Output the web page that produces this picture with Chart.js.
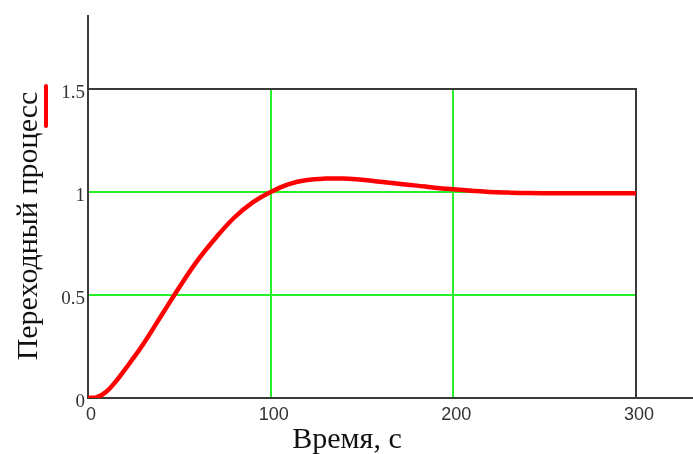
<!DOCTYPE html>
<html>
<head>
<meta charset="utf-8">
<script src="https://cdn.jsdelivr.net/npm/chart.js@4"></script>
<style>
  html, body { margin: 0; padding: 0; background: #fff; }
  canvas { display: block; }
</style>
</head>
<body>
<canvas id="chart" width="693" height="454"></canvas>
<script>
// Время, с
const timeValues = [0, 5, 10, 15, 20, 25, 30, 40, 50, 60, 70, 80, 90, 100, 110, 120, 130, 140, 150,
  160, 170, 180, 190, 200, 210, 220, 230, 240, 260, 280, 300];
// Переходный процесс
const responseValues = [0, 0.004, 0.03, 0.078, 0.135, 0.196, 0.258, 0.398, 0.538, 0.668, 0.778, 0.875, 0.948, 1.0, 1.038, 1.058, 1.065, 1.065, 1.06,
  1.05, 1.04, 1.031, 1.021, 1.013, 1.006, 1.0, 0.997, 0.995, 0.994, 0.994, 0.994];

const xTicks = [0, 100, 200, 300];
const xTickLabels = ['0', '100', '200', '300'];
const yTicks = [0, 0.5, 1, 1.5];
const yTickLabels = ['0', '0.5', '1', '1.5'];

const xTitle = 'Время, с';
const yTitle = 'Переходный процесс';

// Рамка, продолжение осей, подписи осей и метка легенды
const framePlugin = {
  id: 'frame',
  beforeDatasetsDraw(chart) {
    const ctx = chart.ctx;
    const a = chart.chartArea;
    ctx.save();
    ctx.strokeStyle = '#3a3a3a';
    ctx.lineWidth = 2;
    ctx.beginPath();
    ctx.moveTo(a.left, 15);
    ctx.lineTo(a.left, a.bottom);
    ctx.lineTo(chart.width, a.bottom);
    ctx.moveTo(a.left, a.top);
    ctx.lineTo(a.right, a.top);
    ctx.lineTo(a.right, a.bottom);
    ctx.stroke();
    ctx.restore();
  },
  afterDraw(chart) {
    const ctx = chart.ctx;
    ctx.save();
    ctx.fillStyle = '#111';
    ctx.font = '30px "Liberation Serif", "Times New Roman", serif';
    ctx.textAlign = 'center';
    ctx.textBaseline = 'alphabetic';
    ctx.fillText(xTitle, 347, 448);

    ctx.translate(37, 226);
    ctx.rotate(-Math.PI / 2);
    ctx.fillText(yTitle, 0, 0);
    ctx.restore();

    ctx.save();
    ctx.strokeStyle = '#ff0000';
    ctx.lineWidth = 4;
    ctx.lineCap = 'round';
    ctx.beginPath();
    ctx.moveTo(46, 86);
    ctx.lineTo(46, 126);
    ctx.stroke();
    ctx.restore();
  }
};

const gridColor = (ctx, max) => {
  const v = ctx.tick && ctx.tick.value;
  return (v === 0 || v === max) ? 'rgba(0,0,0,0)' : 'rgb(40,240,40)';
};

new Chart(document.getElementById('chart'), {
  type: 'line',
  data: {
    datasets: [{
      data: timeValues.map((t, i) => ({ x: t, y: responseValues[i] })),
      borderColor: '#ff0000',
      borderWidth: 4.5,
      pointRadius: 0,
      tension: 0.4,
      fill: false
    }]
  },
  options: {
    responsive: false,
    animation: false,
    devicePixelRatio: 1,
    layout: { padding: { top: 89, right: 57, left: 0, bottom: 0 } },
    plugins: { legend: { display: false }, tooltip: { enabled: false } },
    scales: {
      x: {
        type: 'linear',
        min: 0,
        max: 300,
        afterFit: s => { s.height = 56; },
        afterBuildTicks: s => { s.ticks = xTicks.map(v => ({ value: v })); },
        border: { display: false },
        grid: { color: c => gridColor(c, 300), lineWidth: 2, drawTicks: false },
        ticks: {
          padding: 6,
          labelOffset: 3,
          maxRotation: 0,
          color: '#333',
          font: { family: '"Liberation Sans", Arial, sans-serif', size: 18 },
          callback: v => xTickLabels[xTicks.indexOf(v)]
        }
      },
      y: {
        type: 'linear',
        min: 0,
        max: 1.5,
        afterFit: s => { s.width = 88; },
        afterBuildTicks: s => { s.ticks = yTicks.map(v => ({ value: v })); },
        border: { display: false },
        grid: { color: c => gridColor(c, 1.5), lineWidth: 2, drawTicks: false },
        ticks: {
          padding: 3,
          labelOffset: 4,
          color: '#333',
          font: { family: '"Liberation Serif", "Times New Roman", serif', size: 19 },
          callback: v => yTickLabels[yTicks.indexOf(v)]
        }
      }
    }
  },
  plugins: [framePlugin]
});
</script>
</body>
</html>
